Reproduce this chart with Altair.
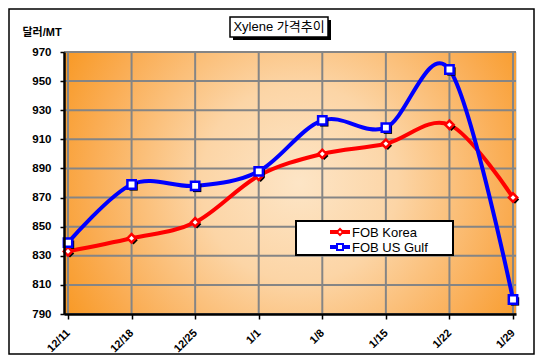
import json
import altair as alt
import pandas as pd

# ---- data ----
dates = ["12/11", "12/18", "12/25", "1/1", "1/8", "1/15", "1/22", "1/29"]
korea = [833, 842, 853, 885, 900, 907, 920, 870]
gulf = [839, 879, 878, 888, 923, 918, 958, 800]
series_names = ["FOB Korea", "FOB US Gulf"]
series_colors = ["#FF0000", "#0000FF"]
series_shapes = ["diamond", "square"]
y_ticks = list(range(790, 971, 20))
x_ticks = list(range(len(dates)))

rows = []
for i, d in enumerate(dates):
    rows.append({"i": i, "date": d, "series": series_names[0], "value": korea[i]})
    rows.append({"i": i, "date": d, "series": series_names[1], "value": gulf[i]})
df = pd.DataFrame(rows)

XDOM = [-0.063, 7.047]
YDOM = [790, 970]
W, H = 452, 262
FONT = "Liberation Sans, Arial, Noto Sans CJK KR"

label_expr = json.dumps(dates) + "[datum.value]"


def xs():
    return alt.Scale(domain=XDOM, nice=False, zero=False)


def ys():
    return alt.Scale(domain=YDOM, nice=False, zero=False)


def x_axis():
    return alt.Axis(
        values=x_ticks, labelExpr=label_expr, title=None, grid=False,
        labelAngle=-45, labelAlign="right", labelBaseline="middle",
        labelFont=FONT, labelFontSize=11, labelFontWeight="bold", labelColor="black",
        labelPadding=12, labelOverlap=False, tickSize=5, tickColor="black", tickWidth=1.5,
        domainColor="black", domainWidth=2.5, zindex=1,
    )


def y_axis():
    return alt.Axis(
        values=y_ticks, grid=False, title="달러/MT",
        titleAngle=0, titleAlign="left", titleBaseline="alphabetic",
        titleX=-42, titleY=-17, titleFont=FONT, titleFontSize=11,
        titleFontWeight="bold", titleColor="black",
        labelFont=FONT, labelFontSize=11.5, labelFontWeight="bold", labelColor="black",
        labelPadding=9, labelOverlap=False, tickSize=4, tickColor="black", tickWidth=1.5,
        domainColor="black", domainWidth=2.5, zindex=1,
    )


def X(field):
    return alt.X(field, scale=xs(), axis=x_axis())


def Y(field):
    return alt.Y(field, scale=ys(), axis=y_axis())


gradient = {
    "gradient": "radial",
    "x1": 0.52, "y1": 0.5, "r1": 0,
    "x2": 0.52, "y2": 0.5, "r2": 0.62,
    "stops": [
        {"offset": 0.0, "color": "#FDE5C6"},
        {"offset": 0.35, "color": "#FCD5A6"},
        {"offset": 0.75, "color": "#FAAC52"},
        {"offset": 1.0, "color": "#F8951B"},
    ],
}

bg_df = pd.DataFrame({"x1": [XDOM[0]], "x2": [XDOM[1]], "y1": [YDOM[0]], "y2": [YDOM[1]]})
bg = alt.Chart(bg_df).mark_rect(color=gradient).encode(
    x=X("x1:Q"), x2="x2:Q", y=Y("y1:Q"), y2="y2:Q",
)

hgrid = alt.Chart(pd.DataFrame({"value": y_ticks})).mark_rule(
    color="#858585", strokeWidth=2
).encode(y=Y("value:Q"))
vgrid = alt.Chart(pd.DataFrame({"i": x_ticks})).mark_rule(
    color="#858585", strokeWidth=2
).encode(x=X("i:Q"))

color_scale = alt.Scale(domain=series_names, range=series_colors)
shape_scale = alt.Scale(domain=series_names, range=series_shapes)

lines = alt.Chart(df).mark_line(strokeWidth=4, interpolate="cardinal").encode(
    x=X("i:Q"), y=Y("value:Q"),
    color=alt.Color("series:N", scale=color_scale, legend=None),
)

shadow = alt.Chart(df).mark_point(
    filled=True, color="black", size=70, xOffset=2, yOffset=2, opacity=1
).encode(
    x=X("i:Q"), y=Y("value:Q"),
    shape=alt.Shape("series:N", scale=shape_scale, legend=None),
)

markers = alt.Chart(df).mark_point(
    filled=True, fill="white", strokeWidth=2.5, size=70, opacity=1
).encode(
    x=X("i:Q"), y=Y("value:Q"),
    stroke=alt.Stroke("series:N", scale=color_scale, legend=None),
    shape=alt.Shape("series:N", scale=shape_scale, legend=None),
)

# ---- legend (drawn as a boxed key) ----
legend_box = alt.Chart(pd.DataFrame({"a": [0]})).mark_rect(
    fill="white", stroke="black", strokeWidth=2
).encode(x=alt.value(232), x2=alt.value(389), y=alt.value(169), y2=alt.value(203))

legend_parts = [legend_box]
for k, name in enumerate(series_names):
    ly = 180 + 15 * k
    one = pd.DataFrame({"series": [name]})
    legend_parts.append(
        alt.Chart(one).mark_rule(color=series_colors[k], strokeWidth=4).encode(
            x=alt.value(266), x2=alt.value(286), y=alt.value(ly)
        )
    )
    legend_parts.append(
        alt.Chart(one).mark_point(
            shape=series_shapes[k], filled=True, fill="white", stroke=series_colors[k],
            strokeWidth=2, size=36, opacity=1
        ).encode(x=alt.value(276), y=alt.value(ly))
    )
    legend_parts.append(
        alt.Chart(one).mark_text(
            font=FONT, fontSize=13, color="black", align="left", baseline="middle"
        ).encode(x=alt.value(288), y=alt.value(ly + 0.5), text="series:N")
    )

# ---- title box ----
title_shadow = alt.Chart(pd.DataFrame({"a": [0]})).mark_rect(fill="black").encode(
    x=alt.value(169), x2=alt.value(267), y=alt.value(-32), y2=alt.value(-12)
)
title_box = alt.Chart(pd.DataFrame({"a": [0]})).mark_rect(
    fill="white", stroke="black", strokeWidth=1.5
).encode(x=alt.value(166), x2=alt.value(264), y=alt.value(-35), y2=alt.value(-15))
title_text = alt.Chart(pd.DataFrame({"t": ["Xylene 가격추이"]})).mark_text(
    font=FONT, fontSize=13, color="black", align="center", baseline="middle"
).encode(x=alt.value(215), y=alt.value(-25), text="t:N")

frame = alt.Chart(pd.DataFrame({"a": [0]})).mark_rect(
    fill=None, stroke="black", strokeWidth=1.5
).encode(x=alt.value(-55), x2=alt.value(470), y=alt.value(-43), y2=alt.value(302))

chart = alt.layer(
    bg, hgrid, vgrid, lines, shadow, markers, *legend_parts,
    title_shadow, title_box, title_text, frame,
).resolve_scale(
    stroke="independent"
).properties(
    width=W, height=H,
    autosize=alt.AutoSizeParams(type="none"),
    padding={"left": 56, "top": 44, "right": 19, "bottom": 41},
).configure_view(
    stroke="#858585", strokeWidth=2
).configure(background="white")

chart.save("out.html", embed_options={"renderer": "svg", "actions": False})
